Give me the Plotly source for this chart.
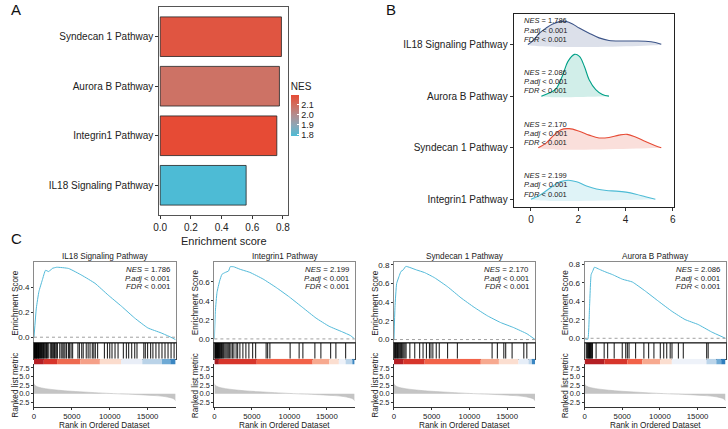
import plotly.graph_objects as go

W, H = 728, 429
FONT = "Liberation Sans, Arial, sans-serif"

# ---------------- Panel A data ----------------
a_pathways = ["IL18 Signaling Pathway", "Integrin1 Pathway", "Aurora B Pathway", "Syndecan 1 Pathway"]
a_es = [0.56, 0.76, 0.777, 0.79]
a_nes = [1.786, 2.199, 2.086, 2.170]
a_xticks = [0.0, 0.2, 0.4, 0.6, 0.8]
nes_ticks = [1.8, 1.9, 2.0, 2.1]

# ---------------- Panel B data ----------------
b_names = ["IL18 Signaling Pathway", "Aurora B Pathway", "Syndecan 1 Pathway", "Integrin1 Pathway"]
b_rows = [3, 2, 1, 0]
b_nes = ["1.786", "2.086", "2.170", "2.199"]
b_x_il18 = [-0.13, 0.08, 0.36, 0.64, 0.92, 1.27, 1.48, 1.76, 2.04, 2.46, 2.88, 3.3, 3.86, 4.42, 4.84, 5.26, 5.51]
b_h_il18 = [0.0, 0.07, 0.22, 0.32, 0.40, 0.45, 0.45, 0.40, 0.32, 0.22, 0.13, 0.08, 0.07, 0.07, 0.065, 0.04, 0.005]
b_x_aur = [0.44, 0.79, 1.07, 1.35, 1.56, 1.84, 2.05, 2.26, 2.46, 2.74, 3.02, 3.3]
b_h_aur = [0.0, 0.064, 0.147, 0.416, 0.67, 0.81, 0.77, 0.576, 0.32, 0.128, 0.032, 0.0]
b_x_syn = [0.31, 0.64, 0.92, 1.27, 1.62, 2.04, 2.46, 2.88, 3.3, 3.72, 4.07, 4.42, 4.84, 5.26, 5.51]
b_h_syn = [0.0, 0.09, 0.22, 0.35, 0.37, 0.32, 0.245, 0.19, 0.20, 0.245, 0.26, 0.21, 0.12, 0.04, 0.0]
b_x_int = [0.0, 0.39, 0.81, 1.23, 1.58, 1.93, 2.35, 2.77, 3.19, 3.6, 4.02, 4.44, 4.84, 5.26]
b_h_int = [0.0, 0.083, 0.22, 0.34, 0.37, 0.34, 0.26, 0.20, 0.17, 0.16, 0.14, 0.10, 0.05, 0.0]
b_xs = [b_x_il18, b_x_aur, b_x_syn, b_x_int]
b_hs = [b_h_il18, b_h_aur, b_h_syn, b_h_int]
b_line = ["#3C5488", "#00A087", "#E64B35", "#4DBBD5"]
b_fill = ["rgba(60,84,136,0.18)", "rgba(0,160,135,0.18)", "rgba(230,75,53,0.18)", "rgba(77,187,213,0.18)"]
b_xticks = [0, 2, 4, 6]

# ---------------- Panel C data ----------------
c_names = ["IL18 Signaling Pathway", "Integrin1 Pathway", "Syndecan 1 Pathway", "Aurora B Pathway"]
c_nes = ["1.786", "2.199", "2.170", "2.086"]
n_genes = 18700
c_xticks = [0, 5000, 10000, 15000]
c_mticks = [-2.5, 0.0, 2.5, 5.0, 7.5]

es_rank_il18 = [0, 310, 650, 1090, 1520, 1960, 2400, 3000, 4570, 6320, 8060, 9800, 11550, 13290, 15030, 16770, 18070, 18700]
es_val_il18 = [0.0, 0.235, 0.368, 0.46, 0.54, 0.53, 0.555, 0.565, 0.555, 0.50, 0.435, 0.34, 0.25, 0.155, 0.075, 0.035, 0.0, -0.02]
es_rank_int = [0, 130, 350, 700, 1010, 1450, 1890, 2110, 2550, 3430, 4750, 6500, 8260, 10020, 11780, 13540, 15300, 17060, 18150, 18700]
es_val_int = [0.0, 0.29, 0.49, 0.61, 0.68, 0.70, 0.715, 0.76, 0.76, 0.733, 0.70, 0.63, 0.54, 0.44, 0.33, 0.22, 0.133, 0.074, 0.035, 0.0]
es_rank_syn = [0, 130, 350, 655, 920, 1220, 1570, 2100, 2970, 4060, 5375, 7120, 8870, 10620, 12370, 14110, 15860, 17610, 18700]
es_val_syn = [0.0, 0.346, 0.60, 0.674, 0.73, 0.747, 0.785, 0.773, 0.747, 0.718, 0.663, 0.565, 0.448, 0.346, 0.255, 0.183, 0.128, 0.062, 0.0]
es_rank_aur = [0, 220, 440, 655, 870, 1090, 1310, 1970, 2840, 3710, 5030, 6340, 8080, 9830, 11580, 13330, 15080, 16820, 18700]
es_val_aur = [0.0, -0.012, -0.01, 0.33, 0.69, 0.73, 0.77, 0.747, 0.717, 0.69, 0.64, 0.61, 0.51, 0.40, 0.293, 0.203, 0.149, 0.07, 0.0]
c_es_rank = [es_rank_il18, es_rank_int, es_rank_syn, es_rank_aur]
c_es_val = [es_val_il18, es_val_int, es_val_syn, es_val_aur]
c_es_range = [[-0.046, 0.606], [-0.042, 0.808], [-0.036, 0.83], [-0.05, 0.825]]
c_es_ticks = [[0.0, 0.2, 0.4], [0.0, 0.2, 0.4, 0.6], [0.0, 0.2, 0.4, 0.6, 0.8], [0.0, 0.2, 0.4, 0.6, 0.8]]

hits_il18 = [20, 60, 110, 150, 210, 260, 300, 340, 380, 430, 500, 560, 600, 640, 700, 780, 850, 930, 1000, 1100, 1180,
             1260, 1350, 1450, 1560, 1650, 1760, 1880, 2150, 2300, 2420, 2560, 2700, 2800, 2950, 3100, 3400, 3600, 3800,
             3950, 4100, 4300, 4550, 4700, 4900, 5100, 5800, 6000, 6300, 6500, 6900, 7150, 7400, 7700, 7900, 8100, 8400,
             9300, 9700, 10000, 10300, 10700, 11100, 11800, 12200, 12500, 12900, 13300, 13600, 14500, 14700, 15000,
             15400, 15700, 16100, 16500, 16900, 17300, 17700, 18100, 18500]
hits_int = [30, 80, 120, 180, 230, 300, 350, 420, 480, 550, 620, 700, 760, 850, 950, 1050, 1150, 1250, 1400, 1550, 1700,
            1850, 2000, 2200, 2400, 2600, 2900, 3100, 3400, 3800, 4200, 4600, 5100, 5500, 6900, 7100, 7400, 10100, 11300,
            11800, 13400, 14200, 15500, 16200, 17500]
hits_syn = [40, 120, 200, 300, 380, 470, 560, 650, 760, 880, 1000, 1150, 1300, 1450, 1600, 2100, 2750, 3400, 3850, 4300,
            4700, 4900, 5150, 5600, 6000, 7100, 8400, 13000, 13700, 14550, 14800, 15650, 17200, 17600]
hits_aur = [220, 330, 420, 500, 580, 650, 720, 800, 880, 960, 1050, 1530, 2600, 3060, 3930, 5000, 5460, 5680, 5900, 6770,
            7870, 8500, 9200, 10050, 10500, 10900, 11360, 11600, 12450, 13100, 16200, 16400]
c_hits = [hits_il18, hits_int, hits_syn, hits_aur]

strip_edges_il18 = [0, 1300, 3050, 6100, 8700, 11500, 14300, 16900, 18000, 18700]
strip_cols_il18 = ["#B41F24", "#D7352B", "#EE6A50", "#F5A088", "#FBDCCD", "#E9EEF7", "#BAD3E8", "#6FAAD5", "#3A86C2"]
strip_edges_int = [0, 600, 5650, 13100, 15300, 16600, 17500, 18400, 18700]
strip_cols_int = ["#A51C22", "#D7352B", "#F26248", "#F7A98F", "#FBDED0", "#EEF2F9", "#BCD5EA", "#3A86C2"]
strip_edges_syn = [0, 1220, 4060, 11500, 13900, 16500, 17830, 18270, 18700]
strip_cols_syn = ["#B41F24", "#D7352B", "#F26248", "#F7A98F", "#FBDED0", "#E6EEF8", "#BCD5EA", "#3A86C2"]
strip_edges_aur = [0, 2620, 5680, 7650, 10050, 11580, 16170, 17480, 18130, 18700]
strip_cols_aur = ["#B41F24", "#D7352B", "#F26248", "#F7A98F", "#FBDED0", "#EEF2F9", "#BCD5EA", "#6FAAD5", "#2F7EBD"]
c_strip_edges = [strip_edges_il18, strip_edges_int, strip_edges_syn, strip_edges_aur]
c_strip_cols = [strip_cols_il18, strip_cols_int, strip_cols_syn, strip_cols_aur]

metric_rank = [0, 100, 500, 1000, 2000, 3000, 4000, 6000, 8000, 10000, 11000, 12000, 14000, 16000, 17000, 18000, 18500, 18700]
metric_val = [3.0, 2.5, 2.0, 1.7, 1.35, 1.1, 0.9, 0.6, 0.35, 0.12, 0.02, -0.07, -0.25, -0.5, -0.7, -1.1, -1.5, -2.0]

# ---------------- layout geometry (pixels) ----------------
def dx(l, r):
    return [l / W, r / W]

def dy(t, b):
    return [1 - b / H, 1 - t / H]

fig = go.Figure()
layout = dict(
    width=W, height=H, margin=dict(l=0, r=0, t=0, b=0),
    paper_bgcolor="white", plot_bgcolor="white",
    font=dict(family=FONT, size=10, color="#222"),
    showlegend=False, barmode="overlay",
)
annotations = []
shapes = []

def ax(**kw):
    base = dict(showgrid=False, zeroline=False, ticks="outside", ticklen=3, tickwidth=1,
                tickcolor="#333", linecolor="#333", linewidth=1)
    base.update(kw)
    return base

# ---------------- Panel A ----------------
a_scale = [[0.0, "#4DBBD5"], [0.25, "#8AA8B8"], [0.5, "#B08F92"], [0.75, "#D06F60"], [1.0, "#E64B35"]]
fig.add_trace(go.Bar(
    x=a_es, y=a_pathways, orientation="h", width=0.8, xaxis="x", yaxis="y",
    marker=dict(color=a_nes, colorscale=a_scale, cmin=min(a_nes), cmax=max(a_nes),
                line=dict(color="#222", width=0.8), showscale=True,
                colorbar=dict(x=288 / W, xanchor="left", y=1 - 135 / H, yanchor="bottom",
                              len=57 / H, lenmode="fraction", thickness=8,
                              title=dict(text="NES", side="top", font=dict(size=10, family=FONT)),
                              tickvals=nes_ticks, ticktext=[f"{v:.1f}" for v in nes_ticks],
                              ticks="inside", tickcolor="white", ticklen=2,
                              outlinewidth=0, tickfont=dict(size=9, family=FONT), xpad=0, ypad=0)),
))
layout["xaxis"] = ax(domain=dx(155, 285), range=[-0.006, 0.832], tickvals=a_xticks,
                     ticktext=[f"{v:.1f}" for v in a_xticks], showline=True, mirror=True,
                     linecolor="#555", tickfont=dict(size=10), anchor="y")
layout["yaxis"] = ax(domain=dy(5, 214.5), range=[-0.6, 3.6], type="category",
                     categoryorder="array", categoryarray=a_pathways, showline=True, mirror=True,
                     linecolor="#555", tickfont=dict(size=10), anchor="x")
annotations.append(dict(text="Enrichment score", x=220 / W, y=1 - 241 / H, xref="paper", yref="paper",
                        showarrow=False, font=dict(size=11), xanchor="center", yanchor="middle"))

# ---------------- Panel B ----------------
for name, row, xs, hs, lc, fc in zip(b_names, b_rows, b_xs, b_hs, b_line, b_fill):
    ys = [row + h for h in hs]
    fig.add_trace(go.Scatter(x=xs + [xs[-1], xs[0]], y=ys + [row, row], xaxis="x2", yaxis="y2",
                             mode="lines", fill="toself", fillcolor=fc, line=dict(width=0, shape="spline"),
                             hoverinfo="skip"))
    fig.add_trace(go.Scatter(x=xs, y=ys, xaxis="x2", yaxis="y2", mode="lines",
                             line=dict(color=lc, width=1.1, shape="spline"), hoverinfo="skip"))
layout["xaxis2"] = ax(domain=dx(513.3, 675), range=[-0.73, 6.03], tickvals=b_xticks,
                      showline=True, mirror=True, linecolor="#222", tickfont=dict(size=10), anchor="y2")
layout["yaxis2"] = ax(domain=dy(11.7, 206), range=[-0.14, 3.6], tickvals=b_rows, ticktext=b_names,
                      showline=True, mirror=True, linecolor="#222", tickfont=dict(size=10), anchor="x2")
for row, nes in zip(b_rows, b_nes):
    lines = [f"<i>NES</i> = {nes}", "<i>P.adj</i> < 0.001", "<i>FDR</i> < 0.001"]
    for k, (t, off) in enumerate(zip(lines, [0.46, 0.28, 0.10])):
        annotations.append(dict(text=t, x=-0.365, y=row + off, xref="x2", yref="y2", showarrow=False,
                                xanchor="left", yanchor="middle", font=dict(size=7.5, color="#222")))

# ---------------- Panel C ----------------
c_left = [28.3, 210.7, 392.3, 585.0]
c_right = [171.5, 352.5, 535.0, 727.5]
ES_T, ES_B, HIT_B, STRIP_B, MET_B = 262, 343.3, 359.3, 365, 407.5
axn = 3
for i in range(4):
    l, r = c_left[i], c_right[i]
    ne, nh, ns, nm = axn, axn + 1, axn + 2, axn + 3
    axn += 4
    # ES curve
    fig.add_trace(go.Scatter(x=c_es_rank[i], y=c_es_val[i], xaxis=f"x{ne}", yaxis=f"y{ne}", mode="lines",
                             line=dict(color="#52B9D8", width=1, shape="spline", smoothing=0.4),
                             hoverinfo="skip"))
    shapes.append(dict(type="line", xref=f"x{ne} domain", yref=f"y{ne}", x0=0, x1=1, y0=0, y1=0,
                       line=dict(color="#A0A0A0", width=1, dash="3px,3px")))
    layout[f"xaxis{ne}"] = ax(domain=dx(l, r), range=[0, n_genes], showticklabels=False, ticks="",
                              showline=True, mirror=True, linecolor="#8A8A8A", anchor=f"y{ne}")
    layout[f"yaxis{ne}"] = ax(domain=dy(ES_T, ES_B), range=c_es_range[i], tickvals=c_es_ticks[i],
                              ticktext=[f"{v:.1f}" for v in c_es_ticks[i]], ticklen=2,
                              showline=True, mirror=True, linecolor="#8A8A8A",
                              tickfont=dict(size=8), anchor=f"x{ne}")
    # hits
    hx, hy = [], []
    for h in c_hits[i]:
        hx += [h, h, None]
        hy += [0, 1, None]
    fig.add_trace(go.Scatter(x=hx, y=hy, xaxis=f"x{nh}", yaxis=f"y{nh}", mode="lines",
                             line=dict(color="rgba(0,0,0,0.85)", width=1.1), hoverinfo="skip"))
    layout[f"xaxis{nh}"] = ax(domain=dx(l, r), range=[0, n_genes], showticklabels=False, ticks="",
                              showline=True, mirror=True, linecolor="#444", anchor=f"y{nh}")
    layout[f"yaxis{nh}"] = ax(domain=dy(ES_B, HIT_B), range=[0, 1], showticklabels=False, ticks="",
                              showline=True, mirror=True, linecolor="#444", anchor=f"x{nh}")
    # colored strip
    e = c_strip_edges[i]
    mids = [(e[k] + e[k + 1]) / 2 for k in range(len(e) - 1)]
    wids = [e[k + 1] - e[k] for k in range(len(e) - 1)]
    fig.add_trace(go.Bar(x=mids, y=[1] * len(mids), width=wids, xaxis=f"x{ns}", yaxis=f"y{ns}",
                         marker=dict(color=c_strip_cols[i], line=dict(width=0)), hoverinfo="skip"))
    layout[f"xaxis{ns}"] = ax(domain=dx(l, r), range=[0, n_genes], showticklabels=False, ticks="",
                              showline=False, anchor=f"y{ns}")
    layout[f"yaxis{ns}"] = ax(domain=dy(HIT_B, STRIP_B), range=[0, 1], showticklabels=False, ticks="",
                              showline=False, anchor=f"x{ns}")
    # ranked metric
    fig.add_trace(go.Scatter(x=metric_rank, y=metric_val, xaxis=f"x{nm}", yaxis=f"y{nm}", mode="lines",
                             fill="tozeroy", fillcolor="#C4C4C4", line=dict(color="#BDBDBD", width=0.6, shape="spline"),
                             hoverinfo="skip"))
    layout[f"xaxis{nm}"] = ax(domain=dx(l, r), range=[0, n_genes], tickvals=c_xticks,
                              ticktext=[str(v) for v in c_xticks], ticklen=2,
                              showline=True, linecolor="#333", tickfont=dict(size=7.8), anchor=f"y{nm}")
    layout[f"yaxis{nm}"] = ax(domain=dy(STRIP_B, MET_B), range=[-3.7, 8.5], tickvals=c_mticks,
                              ticktext=[f"{v:.1f}" for v in c_mticks], ticklen=2,
                              showline=True, linecolor="#333", tickfont=dict(size=7.4), anchor=f"x{nm}")
    # texts
    cx = (l + r) / 2
    annotations.append(dict(text=c_names[i], x=cx / W, y=1 - 256 / H, xref="paper", yref="paper",
                            showarrow=False, font=dict(size=8.2), xanchor="center", yanchor="middle"))
    annotations.append(dict(text="Rank in Ordered Dataset", x=cx / W, y=1 - 426 / H, xref="paper",
                            yref="paper", showarrow=False, font=dict(size=8.2), xanchor="center",
                            yanchor="middle"))
    annotations.append(dict(text="Enrichment Score", x=(l - 19) / W, y=1 - (ES_T + ES_B) / 2 / H,
                            xref="paper", yref="paper", showarrow=False, textangle=-90,
                            font=dict(size=8.2), xanchor="center", yanchor="middle"))
    annotations.append(dict(text="Ranked list metric", x=(l - 19) / W, y=1 - (STRIP_B + MET_B) / 2 / H,
                            xref="paper", yref="paper", showarrow=False, textangle=-90,
                            font=dict(size=8.2), xanchor="center", yanchor="middle"))
    for t, yy in zip([f"<i>NES</i> = {c_nes[i]}", "<i>P.adj</i> < 0.001", "<i>FDR</i> < 0.001"],
                     [269.5, 278.2, 286.9]):
        annotations.append(dict(text=t, x=(r - 4) / W, y=1 - yy / H, xref="paper", yref="paper",
                                showarrow=False, font=dict(size=7.8), xanchor="right", yanchor="middle"))

# panel letters
for t, px, py in [("A", 10, 8), ("B", 389, 8), ("C", 11, 238)]:
    annotations.append(dict(text=t, x=px / W, y=1 - py / H, xref="paper", yref="paper", showarrow=False,
                            font=dict(size=15, color="#111"), xanchor="center", yanchor="middle"))

layout["annotations"] = annotations
layout["shapes"] = shapes
fig.update_layout(**layout)
fig.write_html("out.html")
